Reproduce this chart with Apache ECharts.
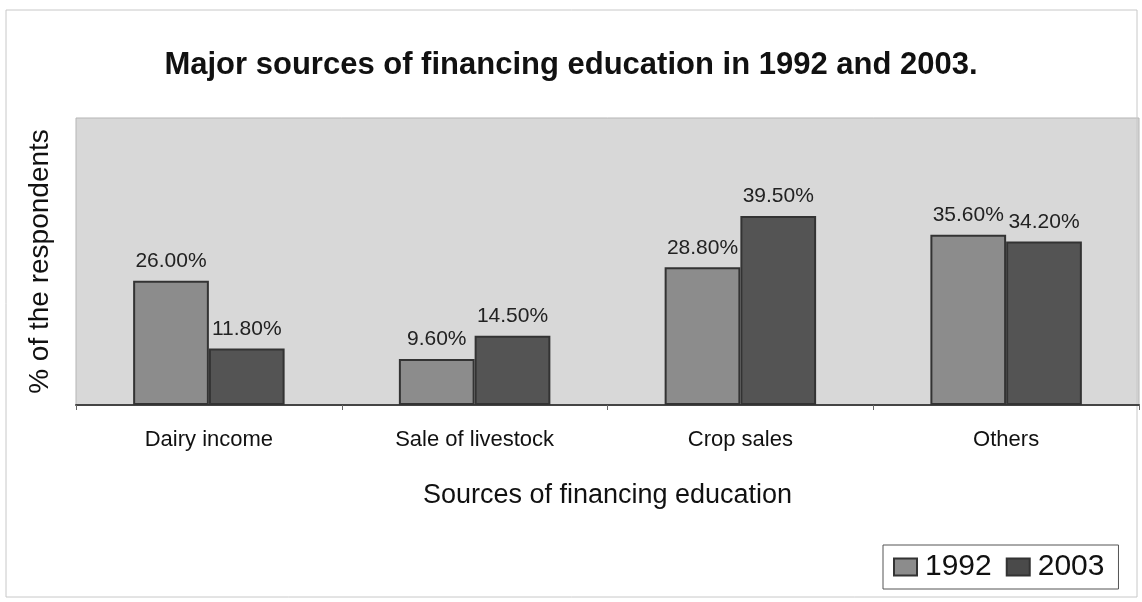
<!DOCTYPE html>
<html>
<head>
<meta charset="utf-8">
<script src="https://cdn.jsdelivr.net/npm/echarts@6/dist/echarts.min.js"></script>
<style>
  html, body { margin: 0; padding: 0; background: #ffffff; }
  #chart { width: 1142px; height: 602px; }
</style>
</head>
<body>
<div id="chart"></div>
<script>
// Sources of financing education, share of respondents (%)
const categories = ['Dairy income', 'Sale of livestock', 'Crop sales', 'Others'];
const values1992 = [26.0, 9.6, 28.8, 35.6];
const values2003 = [11.8, 14.5, 39.5, 34.2];

const chart = echarts.init(document.getElementById('chart'));
const font = '"Liberation Sans", Arial, sans-serif';

const barLabel = {
  show: true,
  position: 'top',
  distance: 9,
  color: '#222',
  fontFamily: font,
  fontSize: 21,
  formatter: p => p.value.toFixed(2) + '%'
};

chart.setOption({
  backgroundColor: '#ffffff',
  animation: false,
  title: {
    text: 'Major sources of financing education in 1992 and 2003.',
    left: 'center',
    top: 45,
    textStyle: { fontFamily: font, fontSize: 31, fontWeight: 'bold', color: '#111' }
  },
  graphic: [
    {
      type: 'rect',
      shape: { x: 6, y: 10, width: 1131, height: 587 },
      style: { fill: 'none', stroke: '#c8c8c8', lineWidth: 1 },
      silent: true
    }
  ],
  legend: {
    left: 883,
    top: 545,
    padding: [7, 14, 7, 10],
    backgroundColor: '#ffffff',
    borderColor: '#555',
    borderWidth: 1,
    borderRadius: 0,
    itemWidth: 23,
    itemHeight: 17,
    itemGap: 14,
    icon: 'rect',
    textStyle: { fontFamily: font, fontSize: 30, color: '#111', padding: [0, 0, 0, 3] },
    data: [
      { name: '1992', itemStyle: { color: '#8c8c8c', borderColor: '#333', borderWidth: 2 } },
      { name: '2003', itemStyle: { color: '#4a4a4a', borderColor: '#333', borderWidth: 2 } }
    ]
  },
  grid: { left: 76, right: 3, top: 118, bottom: 197, show: true, backgroundColor: '#d8d8d8', borderColor: '#b5b5b5', borderWidth: 1 },
  xAxis: {
    type: 'category',
    data: categories,
    name: 'Sources of financing education',
    nameLocation: 'middle',
    nameGap: 77,
    nameTextStyle: { fontFamily: font, fontSize: 27, color: '#111' },
    axisLine: { lineStyle: { color: '#444', width: 2 } },
    axisTick: { show: true, length: 5, lineStyle: { color: '#666' } },
    axisLabel: { fontFamily: font, fontSize: 22, color: '#111', margin: 24 }
  },
  yAxis: {
    type: 'value',
    min: 0,
    max: 60,
    name: '% of the respondents',
    nameLocation: 'middle',
    nameGap: 22,
    nameRotate: 90,
    nameTextStyle: { fontFamily: font, fontSize: 28, color: '#111' },
    axisLine: { show: false },
    axisTick: { show: false },
    axisLabel: { show: false },
    splitLine: { show: false }
  },
  series: [
    {
      name: '1992',
      type: 'bar',
      data: values1992,
      barGap: '0%',
      barCategoryGap: '43%',
      itemStyle: { color: '#8c8c8c', borderColor: '#333', borderWidth: 2 },
      label: barLabel
    },
    {
      name: '2003',
      type: 'bar',
      data: values2003,
      itemStyle: { color: '#545454', borderColor: '#333', borderWidth: 2 },
      label: barLabel
    }
  ]
});
</script>
</body>
</html>
